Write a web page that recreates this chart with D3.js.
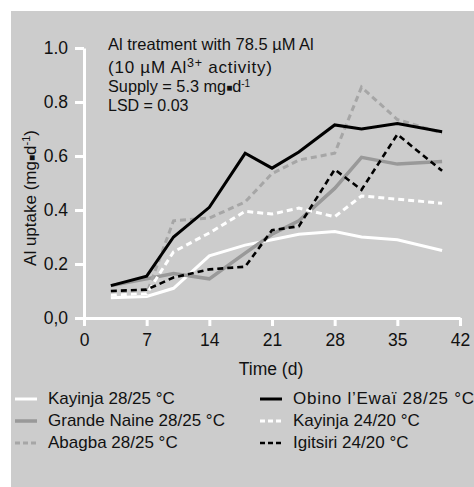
<!DOCTYPE html>
<html>
<head>
<meta charset="utf-8">
<script src="https://cdn.jsdelivr.net/npm/d3@7"></script>
<style>
  html, body { margin: 0; padding: 0; background: #fff; }
  svg { display: block; }
  text { font-family: "Liberation Sans", Arial, Helvetica, sans-serif; fill: #111; }
</style>
</head>
<body>
<svg id="chart" width="474" height="487"></svg>
<script>
// ---- data ----
const days = [3, 7, 10, 14, 18, 21, 24, 28, 31, 35, 40];
const kayinja2825 = [0.075, 0.08, 0.11, 0.23, 0.27, 0.29, 0.31, 0.32, 0.30, 0.29, 0.25];
const grandeNaine2825 = [0.12, 0.145, 0.165, 0.145, 0.24, 0.31, 0.36, 0.48, 0.595, 0.57, 0.58];
const abagba2825 = [0.09, 0.09, 0.36, 0.37, 0.43, 0.535, 0.585, 0.61, 0.855, 0.735, 0.685];
const obino2825 = [0.12, 0.155, 0.30, 0.41, 0.61, 0.555, 0.615, 0.715, 0.70, 0.72, 0.69];
const kayinja2420 = [0.085, 0.09, 0.245, 0.315, 0.395, 0.385, 0.407, 0.375, 0.452, 0.44, 0.425];
const igitsiri2420 = [0.10, 0.105, 0.15, 0.18, 0.19, 0.325, 0.34, 0.55, 0.475, 0.68, 0.545];
const seriesNames = ["Kayinja 28/25 °C", "Grande Naine 28/25 °C", "Abagba 28/25 °C",
                     "Obino l\u2019Ewaï 28/25 °C", "Kayinja 24/20 °C", "Igitsiri  24/20 °C"];
const xTicks = [0, 7, 14, 21, 28, 35, 42];
const yTicks = [0, 0.2, 0.4, 0.6, 0.8, 1.0];

// ---- styles ----
const styles = [
  {color: "#ffffff", width: 3, dash: null},
  {color: "#999999", width: 3.5, dash: null},
  {color: "#a6a6a6", width: 3, dash: "6,4"},
  {color: "#000000", width: 3, dash: null},
  {color: "#ffffff", width: 3, dash: "6,4"},
  {color: "#000000", width: 2.6, dash: "6,4"}
];
const values = [kayinja2825, grandeNaine2825, abagba2825, obino2825, kayinja2420, igitsiri2420];

const svg = d3.select("#chart");
svg.append("rect").attr("x", 11).attr("y", 11).attr("width", 463).attr("height", 476).attr("fill", "#cccccc");

const x = d3.scaleLinear().domain([0, 42]).range([84, 460]);
const y = d3.scaleLinear().domain([0, 1]).range([318, 48]);

// axes
const yAxis = d3.axisLeft(y).tickValues(yTicks).tickSize(9).tickSizeOuter(0).tickPadding(7)
  .tickFormat(d => d === 0 ? "0,0" : d3.format(".1f")(d));
const gy = svg.append("g").attr("transform", "translate(84,0)").call(yAxis);
gy.select(".domain").attr("stroke", "#fff").attr("stroke-width", 3);
gy.selectAll(".tick line").attr("stroke", "#fff").attr("stroke-width", 3);
gy.selectAll(".tick text").attr("font-size", 17.5).attr("fill", "#111")
  .attr("font-family", "Liberation Sans, Arial, sans-serif");

const xAxis = d3.axisBottom(x).tickValues(xTicks).tickSize(8).tickSizeOuter(0).tickPadding(8);
const gx = svg.append("g").attr("transform", "translate(0,318)").call(xAxis);
gx.select(".domain").attr("stroke", "#fff").attr("stroke-width", 3);
gx.selectAll(".tick line").attr("stroke", "#fff").attr("stroke-width", 3);
gx.selectAll(".tick text").attr("font-size", 17.5).attr("fill", "#111")
  .attr("font-family", "Liberation Sans, Arial, sans-serif");

// lines
const line = d3.line().x((d, i) => x(days[i])).y(d => y(d));
values.forEach((vals, k) => {
  const s = styles[k];
  svg.append("path").datum(vals).attr("d", line)
    .attr("fill", "none").attr("stroke", s.color).attr("stroke-width", s.width)
    .attr("stroke-dasharray", s.dash).attr("stroke-linejoin", "miter");
});

// annotation
const ann = svg.append("g");
ann.append("text").attr("x", 108).attr("y", 50).attr("font-size", 16.5).text("Al treatment with 78.5 µM Al");
const l2 = ann.append("text").attr("x", 108).attr("y", 73).attr("font-size", 17)
  .attr("textLength", 164).attr("lengthAdjust", "spacing");
l2.append("tspan").text("(10 µM Al");
l2.append("tspan").attr("font-size", 12.5).attr("dy", -6).text("3+");
l2.append("tspan").attr("dy", 6).text(" activity)");
const l3 = ann.append("text").attr("x", 108).attr("y", 92).attr("font-size", 16.3);
l3.append("tspan").text("Supply = 5.3 mg");
l3.append("tspan").attr("font-size", 10).attr("dy", -1).text("\u25A0");
l3.append("tspan").attr("dy", 1).text("d");
l3.append("tspan").attr("font-size", 10).attr("dy", -5).text("-1");
ann.append("text").attr("x", 108).attr("y", 111).attr("font-size", 16).text("LSD = 0.03");

// axis titles
svg.append("text").attr("x", 271).attr("y", 375).attr("text-anchor", "middle").attr("font-size", 17.5).text("Time (d)");
const yl = svg.append("text").attr("transform", "translate(36,198) rotate(-90)").attr("text-anchor", "middle").attr("font-size", 17);
yl.append("tspan").text("Al uptake (mg");
yl.append("tspan").attr("font-size", 10).attr("dy", -1).text("\u25A0");
yl.append("tspan").attr("dy", 1).text("d");
yl.append("tspan").attr("font-size", 11).attr("dy", -6).text("-1");
yl.append("tspan").attr("dy", 6).text(")");

// legend
const legendPos = [
  {lx: 15, tx: 48, by: 404}, {lx: 15, tx: 48, by: 426}, {lx: 15, tx: 48, by: 448},
  {lx: 260, tx: 293, by: 404}, {lx: 260, tx: 293, by: 426}, {lx: 260, tx: 293, by: 448}
];
seriesNames.forEach((name, k) => {
  const p = legendPos[k], s = styles[k];
  svg.append("line").attr("x1", p.lx).attr("x2", p.lx + 22).attr("y1", p.by - 5).attr("y2", p.by - 5)
    .attr("stroke", s.color).attr("stroke-width", s.width).attr("stroke-dasharray", s.dash ? "5,3" : null);
  const t = svg.append("text").attr("x", p.tx).attr("y", p.by).attr("font-size", 17).text(name);
  if (k === 3) t.attr("textLength", 181).attr("lengthAdjust", "spacing");
});
</script>
</body>
</html>
